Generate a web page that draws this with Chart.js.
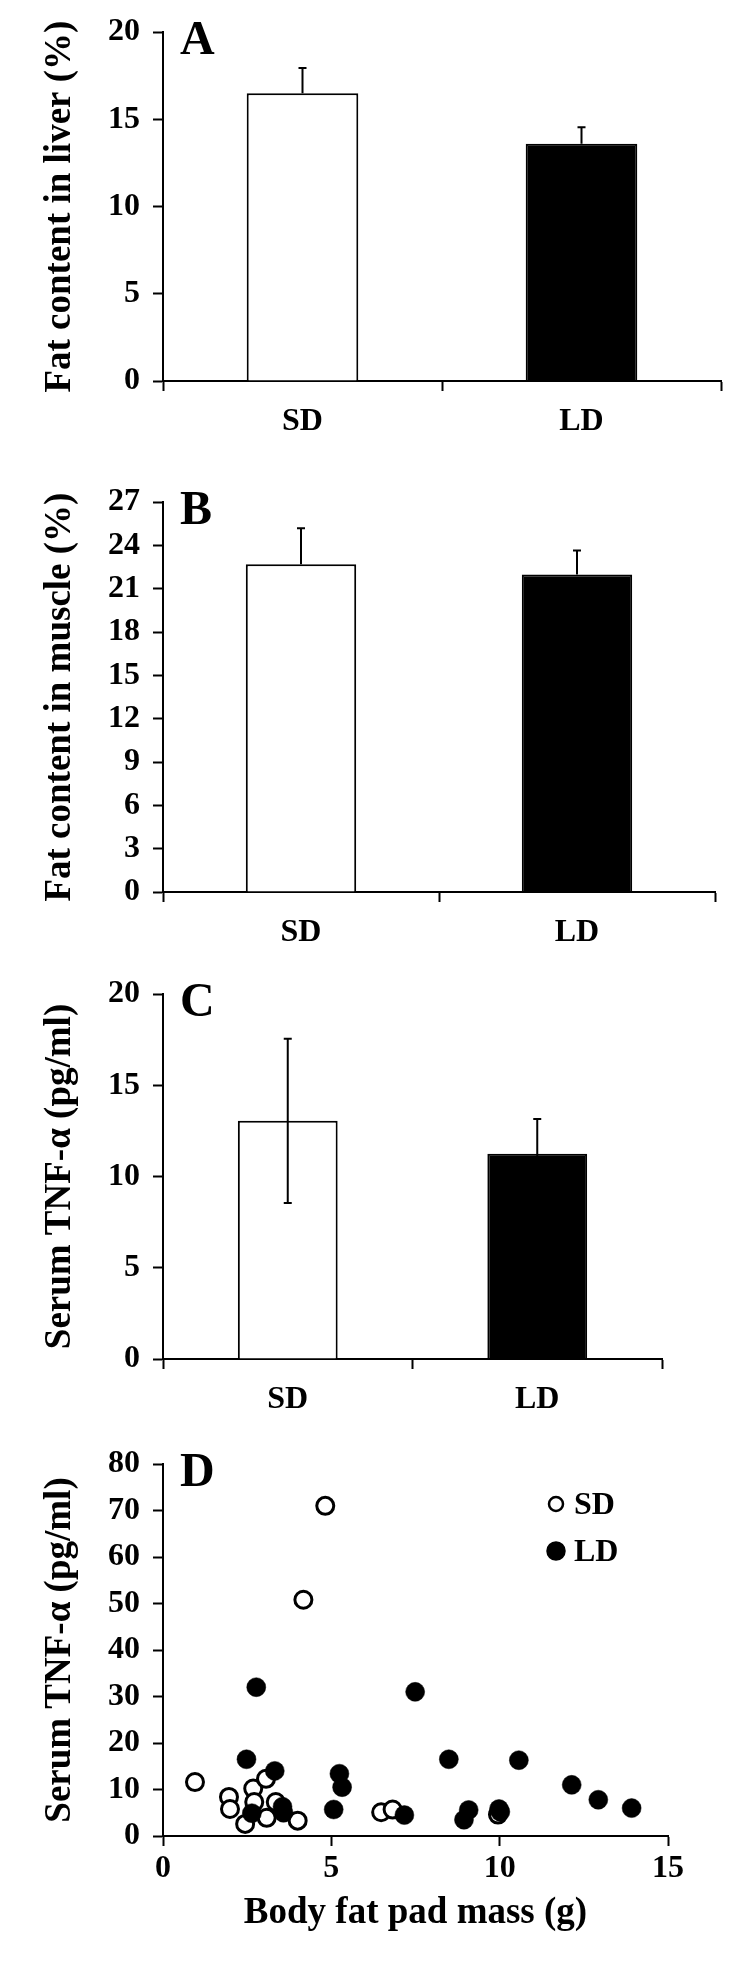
<!DOCTYPE html>
<html>
<head>
<meta charset="utf-8">
<script src="https://cdn.jsdelivr.net/npm/chart.js@4.4.1/dist/chart.umd.min.js"></script>
<style>
  body { margin: 0; background: #fff; }
  #page { position: relative; width: 747px; height: 1964px; }
  canvas { position: absolute; left: 0; }
</style>
</head>
<body>
<div id="page">
  <canvas id="chartA" width="747" height="470" style="top:0px"></canvas>
  <canvas id="chartB" width="747" height="490" style="top:470px"></canvas>
  <canvas id="chartC" width="747" height="470" style="top:960px"></canvas>
  <canvas id="chartD" width="747" height="534" style="top:1430px"></canvas>
</div>
<script>
// groups
const groups = ['SD', 'LD'];

// A - liver fat (%)
const liverFat = [16.5, 13.6];
const liverErr = [1.45, 0.95];

// B - muscle fat (%)
const muscleFat = [22.7, 22.0];
const muscleErr = [2.5, 1.65];

// C - serum TNF-a (pg/ml)
const tnfMean = [13.05, 11.25];
const tnfErr = [4.5, 1.9];

// D - individual animals: body fat pad mass (g) vs TNF-a
const sdMass = [4.82, 4.17, 0.95, 1.96, 1.99, 2.68, 2.71, 2.44, 3.06, 3.08, 3.35, 4.0, 6.48, 6.82, 9.95];
const sdTnf = [71.0, 50.8, 11.6, 8.4, 5.8, 10.2, 7.3, 2.6, 12.3, 3.9, 7.3, 3.3, 5.1, 5.7, 4.6];
const ldMass = [2.77, 7.49, 2.48, 3.32, 5.24, 5.32, 5.07, 2.64, 3.55, 3.58, 7.17, 8.49, 10.57, 12.14, 12.93, 13.92, 9.08, 8.94, 9.98, 10.02];
const ldTnf = [32.0, 31.0, 16.5, 14.0, 13.4, 10.5, 5.7, 4.9, 6.3, 5.0, 4.5, 16.5, 16.3, 11.0, 7.8, 6.0, 5.6, 3.5, 5.8, 5.2];

const serif = '"Liberation Serif", "Times New Roman", serif';
const tickFont = { family: serif, size: 32, weight: 'bold' };
const titleFont = { family: serif, size: 37, weight: 'bold' };

// error bars on top of the bars
const errorBars = {
  id: 'errorBars',
  afterDatasetsDraw(chart, args, opts) {
    const ctx = chart.ctx;
    const y = chart.scales.y;
    const vals = chart.data.datasets[0].data;
    ctx.save();
    ctx.strokeStyle = '#000';
    ctx.lineWidth = 2;
    chart.getDatasetMeta(0).data.forEach((bar, i) => {
      const top = y.getPixelForValue(vals[i] + opts.values[i]);
      const bottom = opts.both ? y.getPixelForValue(vals[i] - opts.values[i]) : bar.y;
      ctx.beginPath();
      ctx.moveTo(bar.x, top);
      ctx.lineTo(bar.x, bottom);
      ctx.moveTo(bar.x - 4, top);
      ctx.lineTo(bar.x + 4, top);
      if (opts.both) {
        ctx.moveTo(bar.x - 4, bottom);
        ctx.lineTo(bar.x + 4, bottom);
      }
      ctx.stroke();
    });
    ctx.restore();
  }
};

// big panel letter in the top left corner
const panelLabel = {
  id: 'panelLabel',
  afterDraw(chart, args, opts) {
    const ctx = chart.ctx;
    ctx.save();
    ctx.fillStyle = '#000';
    ctx.font = 'bold 48px ' + serif;
    ctx.textBaseline = 'alphabetic';
    ctx.fillText(opts.text, chart.chartArea.left + 17, chart.chartArea.top + 22);
    ctx.restore();
  }
};

// legend for panel D
const groupLegend = {
  id: 'groupLegend',
  afterDraw(chart) {
    const ctx = chart.ctx;
    const x = chart.chartArea.right - 112;
    const rows = [
      { label: 'SD', y: chart.chartArea.top + 40, fill: '#fff' },
      { label: 'LD', y: chart.chartArea.top + 87, fill: '#000' }
    ];
    ctx.save();
    ctx.font = 'bold 32px ' + serif;
    ctx.textBaseline = 'middle';
    rows.forEach(r => {
      ctx.beginPath();
      ctx.arc(x, r.y, r.fill === '#fff' ? 7 : 8.5, 0, Math.PI * 2);
      ctx.fillStyle = r.fill;
      ctx.fill();
      ctx.lineWidth = 2.5;
      ctx.strokeStyle = '#000';
      ctx.stroke();
      ctx.fillStyle = '#000';
      ctx.fillText(r.label, x + 18, r.y + 2);
    });
    ctx.restore();
  }
};

function yAxis(title, max, step) {
  return {
    min: 0, max: max,
    afterFit: s => { s.width = 163; },
    border: { color: '#000', width: 2 },
    grid: { drawOnChartArea: false, tickLength: 10, tickColor: '#000', tickWidth: 2 },
    ticks: { stepSize: step, color: '#000', font: tickFont, padding: 13 },
    title: { display: true, text: title, color: '#000', font: titleFont, padding: { top: 38, bottom: 0 } }
  };
}

function barChart(id, values, errs, both, letter, title, max, step, pad) {
  new Chart(document.getElementById(id), {
    type: 'bar',
    data: {
      labels: groups,
      datasets: [{
        data: values,
        backgroundColor: ['#fff', '#000'],
        borderColor: '#000',
        borderWidth: 2,
        borderSkipped: 'bottom',
        categoryPercentage: 1,
        barPercentage: 0.4
      }]
    },
    options: {
      responsive: false,
      animation: false,
      devicePixelRatio: 1,
      layout: { padding: pad },
      plugins: {
        legend: { display: false },
        tooltip: { enabled: false },
        errorBars: { values: errs, both: both },
        panelLabel: { text: letter }
      },
      scales: {
        x: {
          afterFit: s => { s.height = 60; },
          border: { color: '#000', width: 2 },
          grid: { offset: true, drawOnChartArea: false, tickLength: 10, tickColor: '#000', tickWidth: 2 },
          ticks: { color: '#000', font: tickFont, padding: 12 }
        },
        y: yAxis(title, max, step)
      }
    },
    plugins: [errorBars, panelLabel]
  });
}

barChart('chartA', liverFat, liverErr, false, 'A', 'Fat content in liver (%)', 20, 5,
  { top: 30, right: 26, bottom: 29, left: 0 });
barChart('chartB', muscleFat, muscleErr, false, 'B', 'Fat content in muscle (%)', 27, 3,
  { top: 21, right: 32, bottom: 8, left: 0 });
barChart('chartC', tnfMean, tnfErr, true, 'C', 'Serum TNF-\u03b1 (pg/ml)', 20, 5,
  { top: 34, right: 85, bottom: 11, left: 0 });

new Chart(document.getElementById('chartD'), {
  type: 'scatter',
  data: {
    datasets: [
      {
        label: 'SD',
        order: 2,
        data: sdMass.map((m, i) => ({ x: m, y: sdTnf[i] })),
        pointStyle: 'circle',
        pointRadius: 8.5,
        pointBackgroundColor: '#fff',
        pointBorderColor: '#000',
        pointBorderWidth: 3
      },
      {
        label: 'LD',
        order: 1,
        data: ldMass.map((m, i) => ({ x: m, y: ldTnf[i] })),
        pointStyle: 'circle',
        pointRadius: 9.5,
        pointBackgroundColor: '#000',
        pointBorderColor: '#000',
        pointBorderWidth: 0.5
      }
    ]
  },
  options: {
    responsive: false,
    animation: false,
    devicePixelRatio: 1,
    layout: { padding: { top: 34, right: 79, bottom: 28, left: 0 } },
    plugins: {
      legend: { display: false },
      tooltip: { enabled: false },
      panelLabel: { text: 'D' }
    },
    scales: {
      x: {
        type: 'linear',
        min: 0, max: 15,
        afterFit: s => { s.height = 100; },
        border: { color: '#000', width: 2 },
        grid: { drawOnChartArea: false, tickLength: 10, tickColor: '#000', tickWidth: 2 },
        ticks: { stepSize: 5, color: '#000', font: tickFont, padding: 4 },
        title: { display: true, text: 'Body fat pad mass (g)', color: '#000', font: titleFont, padding: 0 }
      },
      y: yAxis('Serum TNF-\u03b1 (pg/ml)', 80, 10)
    }
  },
  plugins: [panelLabel, groupLegend]
});
</script>
</body>
</html>
